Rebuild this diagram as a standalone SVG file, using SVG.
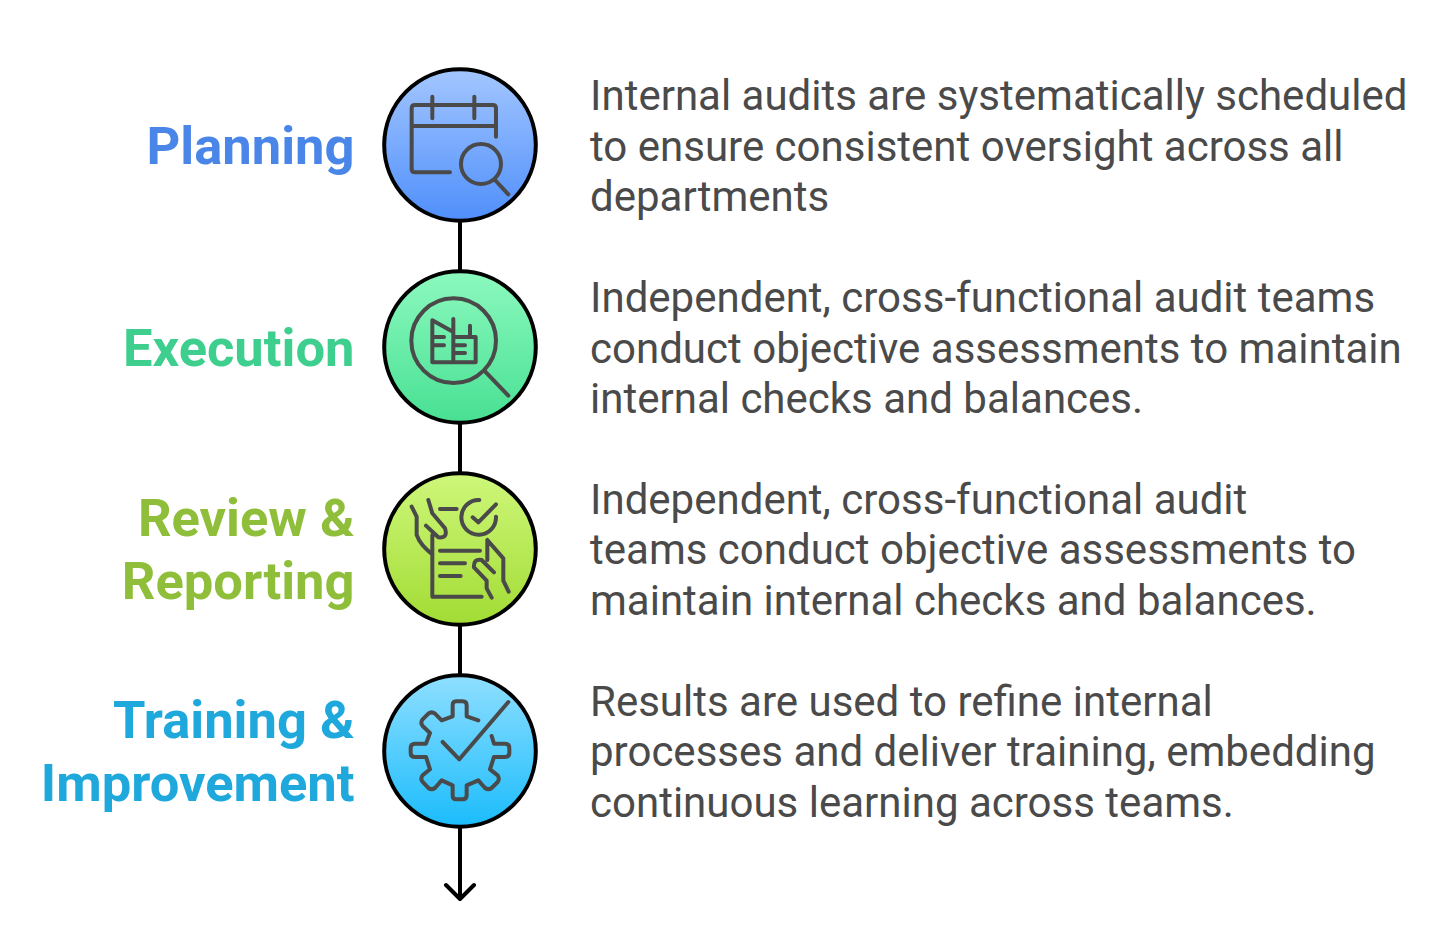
<svg xmlns="http://www.w3.org/2000/svg" width="1440" height="934" viewBox="0 0 1440 934">
<style>
.bg{fill:#fff}
.c{stroke:#000;stroke-width:4;fill:none;stroke-linecap:round;stroke-linejoin:round}
.n{stroke:#000;stroke-width:4}
.i{fill:none;stroke:#4a4a4a;stroke-width:12;stroke-linecap:round;stroke-linejoin:round}
.l{font-family:Roboto,"Liberation Sans",sans-serif;font-weight:700;font-size:52.500px;text-anchor:end}
.t{font-family:Roboto,"Liberation Sans",sans-serif;font-size:42.030px;fill:#4a4a4a}
</style>
<defs>
<linearGradient id="g1" x1="0" y1="0" x2="0" y2="1"><stop offset="0" stop-color="#a3c6ff"/><stop offset="1" stop-color="#4f8ffb"/></linearGradient>
<linearGradient id="g2" x1="0" y1="0" x2="0" y2="1"><stop offset="0" stop-color="#8cf9be"/><stop offset="1" stop-color="#48e093"/></linearGradient>
<linearGradient id="g3" x1="0" y1="0" x2="0" y2="1"><stop offset="0" stop-color="#cef77a"/><stop offset="1" stop-color="#a2dc34"/></linearGradient>
<linearGradient id="g4" x1="0" y1="0" x2="0" y2="1"><stop offset="0" stop-color="#8fdfff"/><stop offset="1" stop-color="#1bbcfc"/></linearGradient>
</defs>
<rect class="bg" width="1440" height="934"/>
<g id="connectors">
<path class="c" d="M460 221V271M460 423V473M460 625V675M460 827V897M446 885L460 899L474 885"/>
</g>
<g id="planning">
<circle class="n" cx="460" cy="145" r="75.800" fill="url(#g1)"/>
<g transform="translate(370 55) scale(.3333)"><path class="i" d="M240 352H135Q125 352 125 342V160Q125 150 135 150H368Q378 150 378 160V245M125 213H378M187 125V190M313 125V190M375 375L415 418"/><circle class="i" cx="333" cy="327" r="60"/></g>
<text class="l" x="354.500" y="163.500" fill="#4a86e8">Planning</text>
<text class="t" x="590" y="110">Internal audits are systematically scheduled</text>
<text class="t" x="590" y="160.500">to ensure consistent oversight across all</text>
<text class="t" x="590" y="211">departments</text>
</g>
<g id="execution">
<circle class="n" cx="460" cy="347" r="75.800" fill="url(#g2)"/>
<g transform="translate(370 258) scale(.3333)"><circle class="i" cx="251" cy="248" r="127"/><path class="i" d="M345 340L415 413M250 313H187V187L250 222M250 183V313H317V237H250M300 203V237M187 237H222M187 262H222M250 262H285M250 285H285"/></g>
<text class="l" x="354.500" y="365.500" fill="#3ecf8e">Execution</text>
<text class="t" x="590" y="311.500">Independent, cross-functional audit teams</text>
<text class="t" x="590" y="362.500">conduct objective assessments to maintain</text>
<text class="t" x="590" y="412.500">internal checks and balances.</text>
</g>
<g id="review">
<circle class="n" cx="460" cy="549" r="75.800" fill="url(#g3)"/>
<g transform="translate(370 460) scale(.3333)"><path class="i" d="M187 225V410H335M210 272H330M210 310H285M210 348H272M210 147H260M328 120A52 52 0 1 0 378 170M308 172L325 187L378 133M125 140L140 170V225Q150 255 187 283M175 120L187 160L225 205Q235 235 205 232L168 197M352 240L400 295V362L416 395M352 240V300M372 337L335 300Q310 295 312 322L350 362V385L365 413"/></g>
<text class="l" x="354.500" y="536" fill="#8fbe3a">Review &amp;</text>
<text class="l" x="354.500" y="598.500" fill="#8fbe3a">Reporting</text>
<text class="t" x="590" y="513.500">Independent, cross-functional audit</text>
<text class="t" x="590" y="564">teams conduct objective assessments to</text>
<text class="t" x="590" y="614.500">maintain internal checks and balances.</text>
</g>
<g id="training">
<circle class="n" cx="460" cy="751" r="75.800" fill="url(#g4)"/>
<g transform="translate(370 662) scale(.3333)"><path class="i" d="M325 175L290 163V130Q290 118 278 118H258Q248 118 248 130V163L215 175L195 155Q185 147 175 155L158 172Q150 182 158 192L180 213L168 245H135Q122 245 122 258V272Q122 285 135 285H168L180 322L158 340Q150 350 158 360L175 378Q185 385 195 378L215 355L248 370V400Q248 412 258 412H278Q290 412 290 400V370L325 355L345 378Q355 385 365 378L383 360Q390 350 383 340L360 322L372 285H405Q418 285 418 272V258Q418 245 405 245H372L365 222M218 240L268 292L415 120"/></g>
<text class="l" x="354.500" y="737.500" fill="#1fa8dc">Training &amp;</text>
<text class="l" x="354.500" y="800.500" fill="#1fa8dc">Improvement</text>
<text class="t" x="590" y="715.500">Results are used to refine internal</text>
<text class="t" x="590" y="766">processes and deliver training, embedding</text>
<text class="t" x="590" y="816.500">continuous learning across teams.</text>
</g>
</svg>
